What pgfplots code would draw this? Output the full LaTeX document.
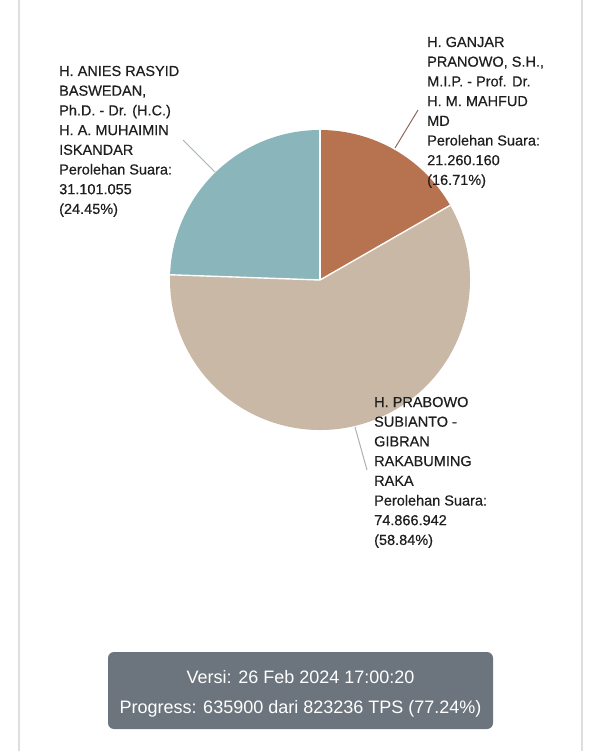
\documentclass[border=0pt]{standalone}
\usepackage{pgfplots}
\pgfplotsset{compat=1.18}
\usepackage{pgfplotstable}
\usepackage{xfp}
\usepackage{fontspec}
\setmainfont{Liberation Sans}
\newfontfamily\lblfont[FakeBold=0.45]{Liberation Sans}
\definecolor{cGan}{HTML}{B7724F}
\definecolor{cPra}{HTML}{C8B8A5}
\definecolor{cAni}{HTML}{8AB5BB}
\definecolor{cBox}{HTML}{6C757D}
\definecolor{cEdge}{HTML}{DEDEDE}
\definecolor{cTxt}{HTML}{1E1E1E}

\pgfplotstableread{
name value
Ganjar 21260160
Prabowo 74866942
Anies 31101055
}\votes
\pgfplotstablegetelem{0}{value}\of\votes \edef\vG{\pgfplotsretval}
\pgfplotstablegetelem{1}{value}\of\votes \edef\vP{\pgfplotsretval}
\pgfplotstablegetelem{2}{value}\of\votes \edef\vA{\pgfplotsretval}
\edef\tot{\fpeval{\vG+\vP+\vA}}
\edef\aG{\fpeval{90-360*\vG/\tot}}
\edef\aP{\fpeval{\aG-360*\vP/\tot}}
\edef\aA{\fpeval{\aP-360*\vA/\tot}}

\newcommand\Lbl[3]{\node[anchor=base west,inner sep=0,text=cTxt,font=\lblfont\fontsize{14.5}{17}\selectfont] at (#1,#2) {#3};}

\begin{document}
\begin{tikzpicture}
\begin{axis}[hide axis, x=150pt, y=150pt, xmin=-1, xmax=1, ymin=-1, ymax=1,
  anchor=origin, at={(320pt,-280pt)}, clip=false]
\fill[cGan] (axis cs:0,0) -- ++(90:150pt) arc[start angle=90,end angle=\aG,radius=150pt] -- cycle;
\fill[cPra] (axis cs:0,0) -- ++(\aG:150pt) arc[start angle=\aG,end angle=\aP,radius=150pt] -- cycle;
\fill[cAni] (axis cs:0,0) -- ++(\aP:150pt) arc[start angle=\aP,end angle=\aA,radius=150pt] -- cycle;
\draw[white,line width=1.4pt] (axis cs:0,0) -- ++(90:150pt);
\draw[white,line width=1.4pt] (axis cs:0,0) -- ++(\aG:150pt);
\draw[white,line width=1.4pt] (axis cs:0,0) -- ++(\aP:150pt);
\end{axis}
\begin{scope}[x=1pt,y=-1pt]
\path[use as bounding box] (0,0) rectangle (600,751);
\draw[cEdge,line width=1.5pt] (19,0)--(19,751);
\draw[cEdge,line width=1.5pt] (582,0)--(582,751);
% leader lines
\draw[color={rgb,255:red,160;green,180;blue,184},line width=1pt] (183,140)--(215,172);
\draw[color={rgb,255:red,140;green,106;blue,88},line width=1pt] (418,110)--(395,148);
\draw[color={rgb,255:red,175;green,175;blue,175},line width=1pt] (355,427)--(367,470);
% Anies label
\foreach \t [count=\i from 0] in {{H. ANIES RASYID},{BASWEDAN,},{Ph.D. - Dr. (H.C.)},{H. A. MUHAIMIN},{ISKANDAR},{Perolehan Suara:},{31.101.055},{(24.45\%)}}{
  \Lbl{59}{76+19.7*\i}{\t}}
% Ganjar label
\foreach \t [count=\i from 0] in {{H. GANJAR},{PRANOWO, S.H.,},{M.I.P. - Prof. Dr.},{H. M. MAHFUD},{MD},{Perolehan Suara:},{21.260.160},{(16.71\%)}}{
  \Lbl{427}{47+19.7*\i}{\t}}
% Prabowo label
\foreach \t [count=\i from 0] in {{H. PRABOWO},{SUBIANTO -},{GIBRAN},{RAKABUMING},{RAKA},{Perolehan Suara:},{74.866.942},{(58.84\%)}}{
  \Lbl{374}{407+19.7*\i}{\t}}
% info box
\fill[cBox,rounded corners=6pt] (108,652) rectangle (493,729);
\node[anchor=base,inner sep=0,text=white,font=\fontsize{18}{20}\selectfont] at (300.5,683) {Versi: 26 Feb 2024 17:00:20};
\node[anchor=base,inner sep=0,text=white,font=\fontsize{18}{20}\selectfont] at (300.5,713) {Progress: 635900 dari 823236 TPS (77.24\%)};
\end{scope}
\end{tikzpicture}
\end{document}
